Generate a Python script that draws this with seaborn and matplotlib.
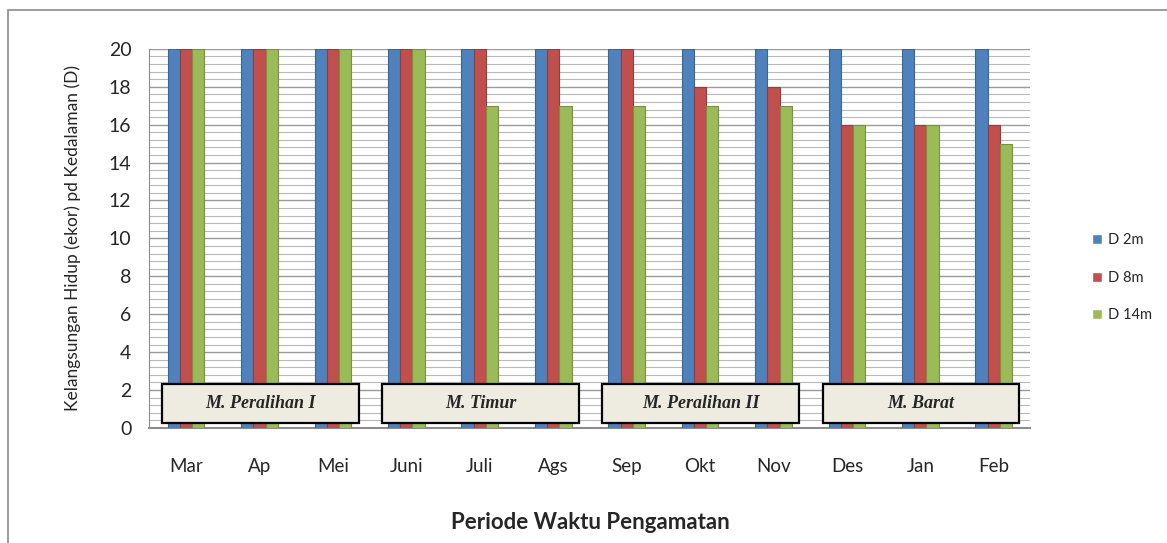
import matplotlib
matplotlib.use("Agg")
import matplotlib.pyplot as plt
from matplotlib.patches import Rectangle
from matplotlib.ticker import MultipleLocator
import seaborn as sns
import pandas as pd

months = ['Mar', 'Ap', 'Mei', 'Juni', 'Juli', 'Ags', 'Sep', 'Okt', 'Nov', 'Des', 'Jan', 'Feb']
d2m = [20, 20, 20, 20, 20, 20, 20, 20, 20, 20, 20, 20]
d8m = [20, 20, 20, 20, 20, 20, 20, 18, 18, 16, 16, 16]
d14m = [20, 20, 20, 20, 17, 17, 17, 17, 17, 16, 16, 15]
series = ['D 2m', 'D 8m', 'D 14m']
seasons = ['M. Peralihan I', 'M. Timur', 'M. Peralihan II', 'M. Barat']

colors = ['#4F81BD', '#C0504D', '#9BBB59']
edges = ['#3A6597', '#963C3A', '#76923C']

sns.set_style("white")
plt.rcParams['font.family'] = ['Lato', 'DejaVu Sans']

df = pd.DataFrame({
    'bulan': months * 3,
    'nilai': d2m + d8m + d14m,
    'seri': [s for s in series for _ in months],
})

fig = plt.figure(figsize=(11.67, 5.43), dpi=100)
ax = fig.add_axes([0.128, 0.212, 0.755, 0.698])

# outer chart border
fig.patches.append(Rectangle((8 / 1167, -0.05), 1.1, 1 - 10 / 543 + 0.05,
                             transform=fig.transFigure, fill=False,
                             edgecolor='#8C8C8C', linewidth=1.2))

sns.barplot(data=df, x='bulan', y='nilai', hue='seri', order=months,
            hue_order=series, palette=colors, saturation=1, width=0.5,
            ax=ax, zorder=3)

# darker outline per series
for cont, ec in zip(ax.containers, edges):
    for bar in cont:
        bar.set_edgecolor(ec)
        bar.set_linewidth(0.8)

ax.set_ylim(0, 20)
ax.set_xlim(-0.5, len(months) - 0.5)
ax.yaxis.set_major_locator(MultipleLocator(2))
ax.yaxis.set_minor_locator(MultipleLocator(0.4))
ax.grid(True, which='major', axis='y', color='#9A9A9A', linewidth=1.0, zorder=0)
ax.grid(True, which='minor', axis='y', color='#B8B8B8', linewidth=0.8, zorder=0)
ax.set_axisbelow(True)

for side in ['top', 'right']:
    ax.spines[side].set_visible(False)
ax.spines['left'].set_color('#8C8C8C')
ax.spines['bottom'].set_color('#8C8C8C')
ax.spines['bottom'].set_linewidth(1.5)

ax.tick_params(axis='y', which='major', direction='out', length=5, color='#8C8C8C',
               labelsize=14, pad=8)
ax.tick_params(axis='y', which='minor', length=0)
ax.tick_params(axis='x', length=0, labelsize=13.5, pad=22)

ax.set_xlabel('Periode Waktu Pengamatan', fontsize=16, fontweight='bold', labelpad=26)
ax.set_ylabel('Kelangsungan Hidup (ekor) pd Kedalaman (D)', fontsize=12.5, labelpad=20)

# season boxes
for i, name in enumerate(seasons):
    x0 = 3 * i - 0.33
    x1 = 3 * i + 2.35
    ax.add_patch(Rectangle((x0, 0.27), x1 - x0, 2.05, facecolor='#EEECE1',
                           edgecolor='black', linewidth=1.6, zorder=5, clip_on=False))
    ax.text((x0 + x1) / 2, 1.3, name, ha='center', va='center', fontsize=13,
            fontweight='bold', fontstyle='italic', family=['Liberation Serif'], zorder=6)

ax.legend(loc='center left', bbox_to_anchor=(1.055, 0.396), frameon=False,
          fontsize=10.5, handlelength=0.7, handleheight=0.7, handletextpad=0.4,
          labelspacing=1.6)

fig.savefig('out.png', dpi=100)
